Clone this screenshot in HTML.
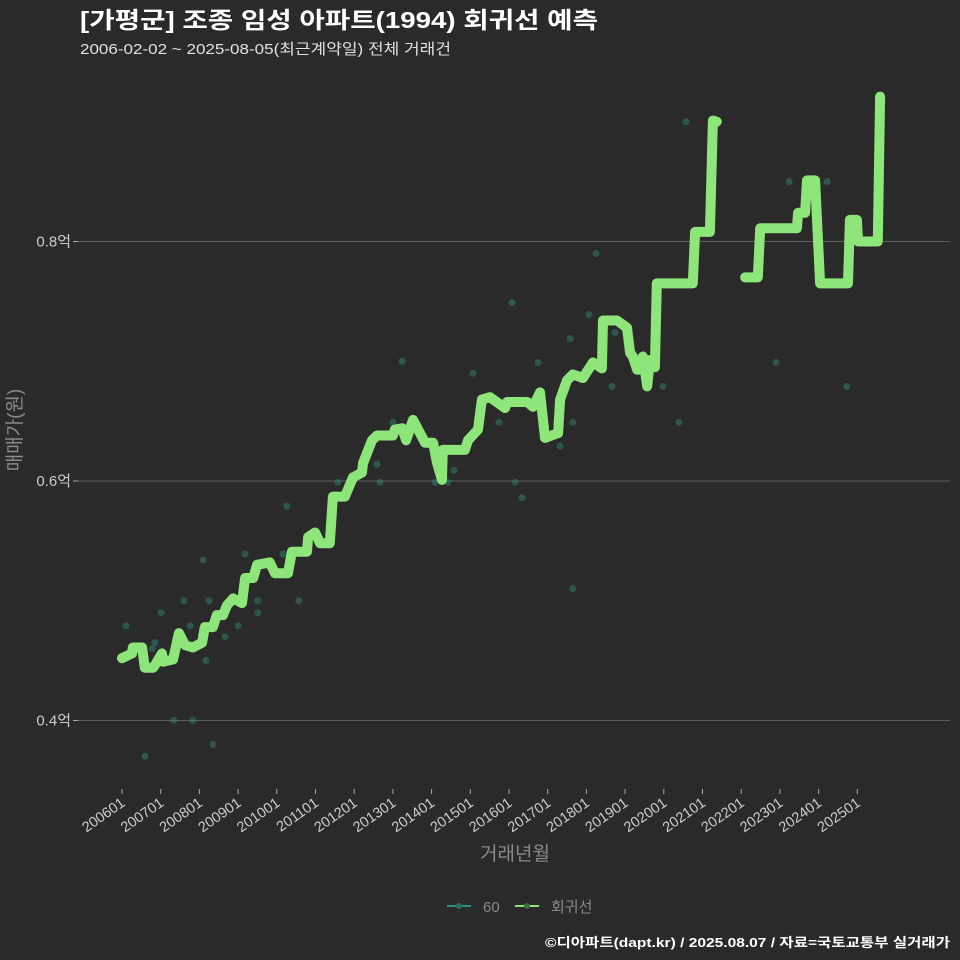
<!DOCTYPE html>
<html><head><meta charset="utf-8">
<style>
html,body{margin:0;padding:0;background:#2b2a2b;}
svg{display:block;font-family:"Liberation Sans","Noto Sans CJK KR",sans-serif;}
</style></head>
<body>
<svg id="chart" width="960" height="960" viewBox="0 0 960 960">
<rect width="960" height="960" fill="#2b2a2b"/>
<text x="80" y="28" fill="#ffffff" font-size="23" font-weight="bold" textLength="518" lengthAdjust="spacingAndGlyphs">[가평군] 조종 임성 아파트(1994) 회귀선 예측</text>
<text x="80" y="54" fill="#e0e0e0" font-size="15" textLength="371" lengthAdjust="spacingAndGlyphs">2006-02-02 ~ 2025-08-05(최근계약일) 전체 거래건</text>
<g id="grid"></g>
<g id="yaxis"></g>
<g id="xaxis"></g>
<g id="points"></g>
<g id="line"></g>
<text x="0" y="0" transform="translate(21,430) rotate(-90)" text-anchor="middle" fill="#8a8a8a" font-size="19">매매가(원)</text>
<text x="515" y="860" text-anchor="middle" fill="#8a8a8a" font-size="19">거래년월</text>
<g>
<g>
<line x1="447" y1="906" x2="471" y2="906" stroke="#2a8f84" stroke-width="2"/>
<circle cx="459" cy="906" r="3" fill="#2a6f66"/>
<text x="483" y="912" fill="#8a8a8a" font-size="15">60</text>
</g>
<g>
<line x1="515" y1="906" x2="539" y2="906" stroke="#8ee57a" stroke-width="2"/>
<circle cx="527" cy="906" r="3" fill="#3f6f3a"/>
<text x="551" y="912" fill="#8a8a8a" font-size="15">회귀선</text>
</g>
</g>
<text x="950" y="947" text-anchor="end" fill="#ffffff" font-size="13" font-weight="bold" textLength="405" lengthAdjust="spacingAndGlyphs">©디아파트(dapt.kr) / 2025.08.07 / 자료=국토교통부 실거래가</text>
</svg>
<script>
const yTicks = [0.4, 0.6, 0.8];
const yTickLabels = ["0.4억", "0.6억", "0.8억"];
const xTickYears = [2006,2007,2008,2009,2010,2011,2012,2013,2014,2015,2016,2017,2018,2019,2020,2021,2022,2023,2024,2025];
const xTickLabels = ["200601","200701","200801","200901","201001","201101","201201","201301","201401","201501","201601","201701","201801","201901","202001","202101","202201","202301","202401","202501"];
const lineT = [2006.00,2006.26,2006.28,2006.52,2006.59,2006.80,2006.85,2007.03,2007.06,2007.32,2007.47,2007.63,2007.83,2008.07,2008.14,2008.35,2008.45,2008.61,2008.71,2008.87,2009.10,2009.18,2009.39,2009.49,2009.82,2009.95,2010.29,2010.39,2010.78,2010.81,2010.99,2011.12,2011.37,2011.45,2011.76,2011.97,2012.20,2012.23,2012.46,2012.59,2013.00,2013.05,2013.24,2013.34,2013.52,2013.70,2013.83,2014.04,2014.14,2014.27,2014.29,2014.86,2014.94,2015.20,2015.30,2015.51,2015.90,2015.95,2016.47,2016.62,2016.80,2016.93,2017.27,2017.32,2017.50,2017.65,2017.91,2018.17,2018.40,2018.43,2018.79,2019.05,2019.13,2019.20,2019.31,2019.44,2019.46,2019.57,2019.64,2019.77,2019.82,2020.75,2020.81,2021.19,2021.27,2021.37,null,2022.10,2022.43,2022.49,2023.44,2023.47,2023.65,2023.70,2023.91,2024.04,2024.76,2024.81,2024.99,2025.02,2025.53,2025.59];
const lineV = [0.452,0.456,0.461,0.461,0.444,0.444,0.446,0.456,0.449,0.451,0.473,0.463,0.461,0.465,0.478,0.478,0.488,0.488,0.496,0.502,0.498,0.519,0.519,0.530,0.532,0.523,0.523,0.541,0.541,0.553,0.557,0.548,0.548,0.587,0.587,0.603,0.607,0.615,0.634,0.638,0.638,0.643,0.644,0.634,0.651,0.640,0.632,0.632,0.615,0.601,0.626,0.626,0.634,0.643,0.668,0.670,0.661,0.666,0.666,0.662,0.674,0.636,0.640,0.668,0.684,0.689,0.686,0.699,0.694,0.734,0.734,0.728,0.707,0.704,0.693,0.693,0.704,0.679,0.701,0.695,0.765,0.765,0.808,0.808,0.901,0.900,null,0.770,0.770,0.811,0.811,0.824,0.824,0.851,0.851,0.765,0.765,0.818,0.818,0.800,0.800,0.921];
const ptT = [2006.10,2006.59,2006.78,2006.85,2007.01,2007.34,2007.60,2007.76,2007.83,2008.09,2008.17,2008.25,2008.35,2008.66,2009.00,2009.18,2009.51,2009.51,2010.16,2010.26,2010.57,2011.58,2012.59,2012.67,2013.00,2013.24,2014.09,2014.42,2014.58,2015.07,2015.74,2016.08,2016.16,2016.34,2016.75,2017.32,2017.58,2017.65,2017.65,2018.07,2018.25,2018.66,2018.74,2019.98,2020.39,2020.57,2022.90,2023.24,2024.22,2024.73];
const ptV = [0.479,0.370,0.460,0.465,0.490,0.400,0.500,0.479,0.400,0.534,0.450,0.500,0.380,0.470,0.479,0.539,0.500,0.490,0.539,0.579,0.500,0.599,0.614,0.599,0.649,0.700,0.599,0.599,0.609,0.690,0.649,0.749,0.599,0.586,0.699,0.629,0.719,0.649,0.510,0.739,0.790,0.679,0.724,0.679,0.649,0.900,0.699,0.850,0.850,0.679];

const NS = "http://www.w3.org/2000/svg";
function xs(t){ return 122 + (t - 2006) * 38.7; }
function ys(v){ return 481 - (v - 0.6) * 1197.5; }

const grid = document.getElementById('grid');
const yaxis = document.getElementById('yaxis');
yTicks.forEach((v, i) => {
  const l = document.createElementNS(NS, 'line');
  
  
  l.setAttribute('x1', 78); l.setAttribute('x2', 950);
  l.setAttribute('y1', ys(v)); l.setAttribute('y2', ys(v));
  l.setAttribute('stroke', '#5e5d5e'); l.setAttribute('stroke-width', '1');
  grid.appendChild(l);
  const tk = document.createElementNS(NS, 'line');
  
  
  tk.setAttribute('x1', 73); tk.setAttribute('x2', 78);
  tk.setAttribute('y1', ys(v)); tk.setAttribute('y2', ys(v));
  tk.setAttribute('stroke', '#aaa');
  yaxis.appendChild(tk);
  const t = document.createElementNS(NS, 'text');
  
  
  t.setAttribute('x', 71); t.setAttribute('y', ys(v) + 5);
  t.setAttribute('text-anchor', 'end'); t.setAttribute('fill', '#cccccc');
  t.setAttribute('font-size', '15');
  t.textContent = yTickLabels[i];
  yaxis.appendChild(t);
});

const xaxis = document.getElementById('xaxis');
xTickYears.forEach((yr, i) => {
  const x = xs(yr);
  const tk = document.createElementNS(NS, 'line');
  
  
  tk.setAttribute('x1', x); tk.setAttribute('x2', x);
  tk.setAttribute('y1', 789); tk.setAttribute('y2', 794);
  tk.setAttribute('stroke', '#aaa');
  xaxis.appendChild(tk);
  const t = document.createElementNS(NS, 'text');
  
  
  t.setAttribute('transform', 'translate(' + (x + 4) + ',805) rotate(-35)');
  t.setAttribute('text-anchor', 'end'); t.setAttribute('fill', '#cccccc');
  t.setAttribute('font-size', '14.5');
  t.textContent = xTickLabels[i];
  xaxis.appendChild(t);
});

const pts = document.getElementById('points');
ptT.forEach((t, i) => {
  const c = document.createElementNS(NS, 'circle');
  
  
  c.setAttribute('cx', xs(t)); c.setAttribute('cy', ys(ptV[i]));
  c.setAttribute('r', 3.5); c.setAttribute('fill', '#2e8b7a'); c.setAttribute('fill-opacity', '0.45');
  pts.appendChild(c);
});

const lineG = document.getElementById('line');
let d = '', start = true;
lineT.forEach((t, i) => {
  if (t === null || lineV[i] === null) { start = true; return; }
  d += (start ? 'M' : 'L') + xs(t).toFixed(1) + ',' + ys(lineV[i]).toFixed(1) + ' ';
  start = false;
});
const p = document.createElementNS(NS, 'path');


p.setAttribute('d', d);
p.setAttribute('fill', 'none'); p.setAttribute('stroke', '#8ee57a');
p.setAttribute('stroke-width', '10'); p.setAttribute('stroke-linejoin', 'round'); p.setAttribute('stroke-linecap', 'round');
lineG.appendChild(p);
</script>
</body></html>
